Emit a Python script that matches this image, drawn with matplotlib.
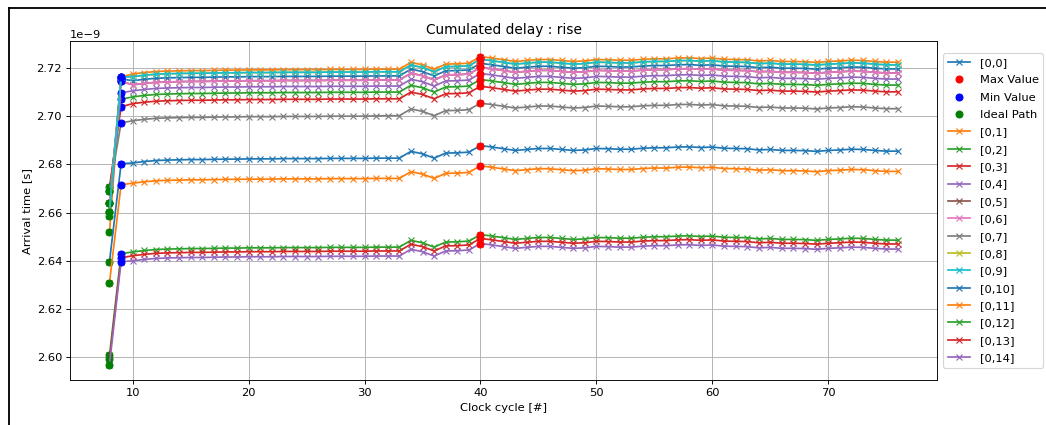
"""Cumulated delay plot (rise) for path [0,0]..[0,14]."""
import numpy as np
import matplotlib.pyplot as plt
from matplotlib.lines import Line2D

# clock cycles on the x axis
cycles = list(range(8, 77))
ideal_cycle = 8
min_cycle = 9
max_cycle = 40

# arrival times in ps, one list per path (cycles 8..76)
arr_0_0 = [2664.0, 2715.5,
           2714.7, 2715.3, 2715.7, 2715.9, 2716.0, 2716.1, 2716.1, 2716.2,
           2716.3, 2716.3, 2716.4, 2716.4, 2716.4, 2716.5, 2716.5, 2716.5,
           2716.5, 2716.6, 2716.6, 2716.6, 2716.6, 2716.7, 2716.7, 2716.7,
           2719.5, 2718.5, 2716.7, 2718.8, 2718.9, 2719.2, 2721.9, 2721.3,
           2720.6, 2719.9, 2720.3, 2720.7, 2720.7, 2720.3, 2719.9, 2720.1,
           2720.7, 2720.6, 2720.4, 2720.4, 2720.8, 2721.0, 2721.0, 2721.3,
           2721.4, 2721.1, 2721.3, 2720.8, 2720.7, 2720.6, 2720.1, 2720.3,
           2719.9, 2719.9, 2719.8, 2719.5, 2719.9, 2720.1, 2720.4, 2720.3,
           2719.9, 2719.6, 2719.6]
arr_0_1 = [2652.0, 2716.3,
           2717.5, 2718.1, 2718.5, 2718.7, 2718.8, 2718.9, 2718.9, 2719.0,
           2719.1, 2719.1, 2719.2, 2719.2, 2719.2, 2719.3, 2719.3, 2719.3,
           2719.3, 2719.4, 2719.4, 2719.4, 2719.4, 2719.5, 2719.5, 2719.5,
           2722.3, 2721.3, 2719.5, 2721.6, 2721.7, 2722.0, 2724.7, 2724.1,
           2723.4, 2722.7, 2723.1, 2723.5, 2723.5, 2723.1, 2722.7, 2722.9,
           2723.5, 2723.4, 2723.2, 2723.2, 2723.6, 2723.8, 2723.8, 2724.1,
           2724.2, 2723.9, 2724.1, 2723.6, 2723.5, 2723.4, 2722.9, 2723.1,
           2722.7, 2722.7, 2722.6, 2722.3, 2722.7, 2722.9, 2723.2, 2723.1,
           2722.7, 2722.4, 2722.4]
arr_0_2 = [2669.0, 2707.0,
           2708.0, 2708.6, 2709.0, 2709.2, 2709.3, 2709.4, 2709.4, 2709.5,
           2709.6, 2709.6, 2709.7, 2709.7, 2709.7, 2709.8, 2709.8, 2709.8,
           2709.8, 2709.9, 2709.9, 2709.9, 2709.9, 2710.0, 2710.0, 2710.0,
           2712.8, 2711.8, 2710.0, 2712.1, 2712.2, 2712.5, 2715.2, 2714.6,
           2713.9, 2713.2, 2713.6, 2714.0, 2714.0, 2713.6, 2713.2, 2713.4,
           2714.0, 2713.9, 2713.7, 2713.7, 2714.1, 2714.3, 2714.3, 2714.6,
           2714.7, 2714.4, 2714.6, 2714.1, 2714.0, 2713.9, 2713.4, 2713.6,
           2713.2, 2713.2, 2713.1, 2712.8, 2713.2, 2713.4, 2713.7, 2713.6,
           2713.2, 2712.9, 2712.9]
arr_0_3 = [2670.5, 2703.9,
           2705.2, 2705.8, 2706.2, 2706.4, 2706.5, 2706.6, 2706.6, 2706.7,
           2706.8, 2706.8, 2706.9, 2706.9, 2706.9, 2707.0, 2707.0, 2707.0,
           2707.0, 2707.1, 2707.1, 2707.1, 2707.1, 2707.2, 2707.2, 2707.2,
           2710.0, 2709.0, 2707.2, 2709.3, 2709.4, 2709.7, 2712.4, 2711.8,
           2711.1, 2710.4, 2710.8, 2711.2, 2711.2, 2710.8, 2710.4, 2710.6,
           2711.2, 2711.1, 2710.9, 2710.9, 2711.3, 2711.5, 2711.5, 2711.8,
           2711.9, 2711.6, 2711.8, 2711.3, 2711.2, 2711.1, 2710.6, 2710.8,
           2710.4, 2710.4, 2710.3, 2710.0, 2710.4, 2710.6, 2710.9, 2710.8,
           2710.4, 2710.1, 2710.1]
arr_0_4 = [2658.7, 2709.7,
           2710.5, 2711.1, 2711.5, 2711.7, 2711.8, 2711.9, 2711.9, 2712.0,
           2712.1, 2712.1, 2712.2, 2712.2, 2712.2, 2712.3, 2712.3, 2712.3,
           2712.3, 2712.4, 2712.4, 2712.4, 2712.4, 2712.5, 2712.5, 2712.5,
           2715.3, 2714.3, 2712.5, 2714.6, 2714.7, 2715.0, 2717.7, 2717.1,
           2716.4, 2715.7, 2716.1, 2716.5, 2716.5, 2716.1, 2715.7, 2715.9,
           2716.5, 2716.4, 2716.2, 2716.2, 2716.6, 2716.8, 2716.8, 2717.1,
           2717.2, 2716.9, 2717.1, 2716.6, 2716.5, 2716.4, 2715.9, 2716.1,
           2715.7, 2715.7, 2715.6, 2715.3, 2715.7, 2715.9, 2716.2, 2716.1,
           2715.7, 2715.4, 2715.4]
arr_0_5 = [2664.1, 2714.5,
           2713.0, 2713.6, 2714.0, 2714.2, 2714.3, 2714.4, 2714.4, 2714.5,
           2714.6, 2714.6, 2714.7, 2714.7, 2714.7, 2714.8, 2714.8, 2714.8,
           2714.8, 2714.9, 2714.9, 2714.9, 2714.9, 2715.0, 2715.0, 2715.0,
           2717.8, 2716.8, 2715.0, 2717.1, 2717.2, 2717.5, 2720.2, 2719.6,
           2718.9, 2718.2, 2718.6, 2719.0, 2719.0, 2718.6, 2718.2, 2718.4,
           2719.0, 2718.9, 2718.7, 2718.7, 2719.1, 2719.3, 2719.3, 2719.6,
           2719.7, 2719.4, 2719.6, 2719.1, 2719.0, 2718.9, 2718.4, 2718.6,
           2718.2, 2718.2, 2718.1, 2717.8, 2718.2, 2718.4, 2718.7, 2718.6,
           2718.2, 2717.9, 2717.9]
arr_0_6 = [2664.1, 2714.5,
           2713.0, 2713.6, 2714.0, 2714.2, 2714.3, 2714.4, 2714.4, 2714.5,
           2714.6, 2714.6, 2714.7, 2714.7, 2714.7, 2714.8, 2714.8, 2714.8,
           2714.8, 2714.9, 2714.9, 2714.9, 2714.9, 2715.0, 2715.0, 2715.0,
           2717.8, 2716.8, 2715.0, 2717.1, 2717.2, 2717.5, 2720.2, 2719.6,
           2718.9, 2718.2, 2718.6, 2719.0, 2719.0, 2718.6, 2718.2, 2718.4,
           2719.0, 2718.9, 2718.7, 2718.7, 2719.1, 2719.3, 2719.3, 2719.6,
           2719.7, 2719.4, 2719.6, 2719.1, 2719.0, 2718.9, 2718.4, 2718.6,
           2718.2, 2718.2, 2718.1, 2717.8, 2718.2, 2718.4, 2718.7, 2718.6,
           2718.2, 2717.9, 2717.9]
arr_0_7 = [2669.1, 2697.2,
           2698.1, 2698.7, 2699.1, 2699.3, 2699.4, 2699.5, 2699.5, 2699.6,
           2699.7, 2699.7, 2699.8, 2699.8, 2699.8, 2699.9, 2699.9, 2699.9,
           2699.9, 2700.0, 2700.0, 2700.0, 2700.0, 2700.1, 2700.2, 2700.2,
           2703.0, 2702.0, 2700.2, 2702.3, 2702.4, 2702.7, 2705.4, 2704.8,
           2704.1, 2703.4, 2703.8, 2704.2, 2704.2, 2703.8, 2703.4, 2703.6,
           2704.2, 2704.1, 2703.9, 2703.9, 2704.3, 2704.5, 2704.5, 2704.8,
           2704.9, 2704.6, 2704.8, 2704.3, 2704.2, 2704.1, 2703.6, 2703.8,
           2703.4, 2703.4, 2703.3, 2703.0, 2703.4, 2703.6, 2703.9, 2703.8,
           2703.4, 2703.1, 2703.1]
arr_0_8 = [2660.4, 2716.2,
           2716.4, 2717.0, 2717.4, 2717.6, 2717.7, 2717.8, 2717.8, 2717.9,
           2718.0, 2718.0, 2718.1, 2718.1, 2718.1, 2718.2, 2718.2, 2718.2,
           2718.2, 2718.3, 2718.3, 2718.3, 2718.3, 2718.4, 2718.4, 2718.4,
           2721.2, 2720.2, 2718.4, 2720.5, 2720.6, 2720.9, 2723.6, 2723.0,
           2722.3, 2721.6, 2722.0, 2722.4, 2722.4, 2722.0, 2721.6, 2721.8,
           2722.4, 2722.3, 2722.1, 2722.1, 2722.5, 2722.7, 2722.7, 2723.0,
           2723.1, 2722.8, 2723.0, 2722.5, 2722.4, 2722.3, 2721.8, 2722.0,
           2721.6, 2721.6, 2721.5, 2721.2, 2721.6, 2721.8, 2722.1, 2722.0,
           2721.6, 2721.3, 2721.3]
arr_0_9 = [2660.4, 2716.2,
           2716.4, 2717.0, 2717.4, 2717.6, 2717.7, 2717.8, 2717.8, 2717.9,
           2718.0, 2718.0, 2718.1, 2718.1, 2718.1, 2718.2, 2718.2, 2718.2,
           2718.2, 2718.3, 2718.3, 2718.3, 2718.3, 2718.4, 2718.4, 2718.4,
           2721.2, 2720.2, 2718.4, 2720.5, 2720.6, 2720.9, 2723.6, 2723.0,
           2722.3, 2721.6, 2722.0, 2722.4, 2722.4, 2722.0, 2721.6, 2721.8,
           2722.4, 2722.3, 2722.1, 2722.1, 2722.5, 2722.7, 2722.7, 2723.0,
           2723.1, 2722.8, 2723.0, 2722.5, 2722.4, 2722.3, 2721.8, 2722.0,
           2721.6, 2721.6, 2721.5, 2721.2, 2721.6, 2721.8, 2722.1, 2722.0,
           2721.6, 2721.3, 2721.3]
arr_0_10 = [2639.7, 2680.3,
            2680.6, 2681.2, 2681.6, 2681.8, 2681.9, 2682.0, 2682.0, 2682.1,
            2682.2, 2682.2, 2682.3, 2682.3, 2682.3, 2682.4, 2682.4, 2682.4,
            2682.4, 2682.5, 2682.5, 2682.5, 2682.5, 2682.6, 2682.6, 2682.6,
            2685.4, 2684.4, 2682.6, 2684.7, 2684.8, 2685.1, 2687.8, 2687.2,
            2686.5, 2685.8, 2686.2, 2686.6, 2686.6, 2686.2, 2685.8, 2686.0,
            2686.6, 2686.5, 2686.3, 2686.3, 2686.7, 2686.9, 2686.9, 2687.2,
            2687.3, 2687.0, 2687.2, 2686.7, 2686.6, 2686.5, 2686.0, 2686.2,
            2685.8, 2685.8, 2685.7, 2685.4, 2685.8, 2686.0, 2686.3, 2686.2,
            2685.8, 2685.5, 2685.5]
arr_0_11 = [2631.0, 2671.6,
            2672.2, 2672.8, 2673.2, 2673.4, 2673.5, 2673.6, 2673.6, 2673.7,
            2673.8, 2673.8, 2673.9, 2673.9, 2673.9, 2674.0, 2674.0, 2674.0,
            2674.0, 2674.1, 2674.1, 2674.1, 2674.1, 2674.2, 2674.2, 2674.2,
            2677.0, 2676.0, 2674.2, 2676.3, 2676.4, 2676.7, 2679.4, 2678.8,
            2678.1, 2677.4, 2677.8, 2678.2, 2678.2, 2677.8, 2677.4, 2677.6,
            2678.2, 2678.1, 2677.9, 2677.9, 2678.3, 2678.5, 2678.5, 2678.8,
            2678.9, 2678.6, 2678.8, 2678.3, 2678.2, 2678.1, 2677.6, 2677.8,
            2677.4, 2677.4, 2677.3, 2677.0, 2677.4, 2677.6, 2677.9, 2677.8,
            2677.4, 2677.1, 2677.1]
arr_0_12 = [2600.8, 2643.0,
            2643.7, 2644.3, 2644.7, 2644.9, 2645.0, 2645.1, 2645.1, 2645.2,
            2645.3, 2645.3, 2645.4, 2645.4, 2645.4, 2645.5, 2645.5, 2645.5,
            2645.5, 2645.6, 2645.6, 2645.6, 2645.6, 2645.7, 2645.7, 2645.7,
            2648.5, 2647.5, 2645.7, 2647.8, 2647.9, 2648.2, 2650.9, 2650.3,
            2649.6, 2648.9, 2649.3, 2649.7, 2649.7, 2649.3, 2648.9, 2649.1,
            2649.7, 2649.6, 2649.4, 2649.4, 2649.8, 2650.0, 2650.0, 2650.3,
            2650.4, 2650.1, 2650.3, 2649.8, 2649.7, 2649.6, 2649.1, 2649.3,
            2648.9, 2648.9, 2648.8, 2648.5, 2648.9, 2649.1, 2649.4, 2649.3,
            2648.9, 2648.6, 2648.6]
arr_0_13 = [2599.1, 2641.3,
            2642.1, 2642.7, 2643.1, 2643.3, 2643.4, 2643.5, 2643.5, 2643.6,
            2643.7, 2643.7, 2643.8, 2643.8, 2643.8, 2643.9, 2643.9, 2643.9,
            2643.9, 2644.0, 2644.0, 2644.0, 2644.0, 2644.1, 2644.1, 2644.1,
            2646.9, 2645.9, 2644.1, 2646.2, 2646.3, 2646.6, 2649.3, 2648.7,
            2648.0, 2647.3, 2647.7, 2648.1, 2648.1, 2647.7, 2647.3, 2647.5,
            2648.1, 2648.0, 2647.8, 2647.8, 2648.2, 2648.4, 2648.4, 2648.7,
            2648.8, 2648.5, 2648.7, 2648.2, 2648.1, 2648.0, 2647.5, 2647.7,
            2647.3, 2647.3, 2647.2, 2646.9, 2647.3, 2647.5, 2647.8, 2647.7,
            2647.3, 2647.0, 2647.0]
arr_0_14 = [2597.0, 2639.7,
            2640.0, 2640.6, 2641.0, 2641.2, 2641.3, 2641.4, 2641.4, 2641.5,
            2641.6, 2641.6, 2641.7, 2641.7, 2641.7, 2641.8, 2641.8, 2641.8,
            2641.8, 2641.9, 2641.9, 2641.9, 2641.9, 2642.0, 2642.0, 2642.0,
            2644.8, 2643.8, 2642.0, 2644.1, 2644.2, 2644.5, 2647.2, 2646.6,
            2645.9, 2645.2, 2645.6, 2646.0, 2646.0, 2645.6, 2645.2, 2645.4,
            2646.0, 2645.9, 2645.7, 2645.7, 2646.1, 2646.3, 2646.3, 2646.6,
            2646.7, 2646.4, 2646.6, 2646.1, 2646.0, 2645.9, 2645.4, 2645.6,
            2645.2, 2645.2, 2645.1, 2644.8, 2645.2, 2645.4, 2645.7, 2645.6,
            2645.2, 2644.9, 2644.9]

path_names = ["[0,0]", "[0,1]", "[0,2]", "[0,3]", "[0,4]", "[0,5]", "[0,6]",
              "[0,7]", "[0,8]", "[0,9]", "[0,10]", "[0,11]", "[0,12]",
              "[0,13]", "[0,14]"]
path_values = [arr_0_0, arr_0_1, arr_0_2, arr_0_3, arr_0_4, arr_0_5, arr_0_6,
               arr_0_7, arr_0_8, arr_0_9, arr_0_10, arr_0_11, arr_0_12,
               arr_0_13, arr_0_14]

# the original was drawn at a lower dpi, so fonts/markers look smaller
DPI = 82.5
fig, ax = plt.subplots(figsize=(1046 / DPI, 425 / DPI), dpi=DPI)
fig.subplots_adjust(left=0.067, right=0.896, bottom=0.106, top=0.903)

k_ideal = cycles.index(ideal_cycle)
k_min = cycles.index(min_cycle)
k_max = cycles.index(max_cycle)

for i, (name, vals) in enumerate(zip(path_names, path_values)):
    # ps -> s
    t = np.array(vals) * 1e-12
    ax.plot(cycles, t, marker="x", label=name)
    ax.plot(cycles[k_max], t[k_max], "o", color="red",
            label="Max Value" if i == 0 else None)
    ax.plot(cycles[k_min], t[k_min], "o", color="blue",
            label="Min Value" if i == 0 else None)
    ax.plot(cycles[k_ideal], t[k_ideal], "o", color="green",
            label="Ideal Path" if i == 0 else None)

ax.set_title("Cumulated delay : rise")
ax.set_xlabel("Clock cycle [#]")
ax.set_ylabel("Arrival time [s]")
ax.grid(True)
ax.legend(loc="center left", bbox_to_anchor=(1, 0.5), labelspacing=0.64)

# black frame of the screenshot (top and left edges visible)
fig.add_artist(Line2D([9 / 1046, 1.0], [1 - 8 / 425, 1 - 8 / 425],
                      color="black", lw=1.6, transform=fig.transFigure))
fig.add_artist(Line2D([9 / 1046, 9 / 1046], [0.0, 1 - 8 / 425],
                      color="black", lw=1.6, transform=fig.transFigure))

plt.savefig("out.png", dpi=DPI)
